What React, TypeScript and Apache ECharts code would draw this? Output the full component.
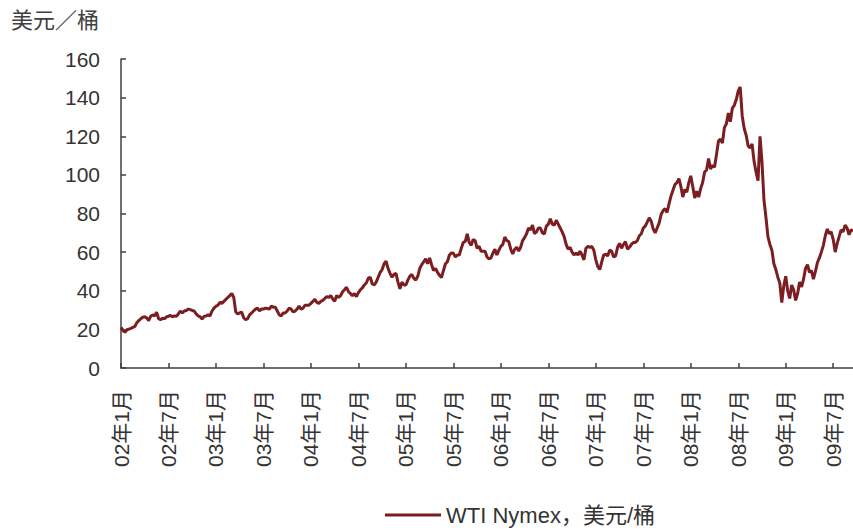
import React, { useEffect, useRef } from "react";
import * as echarts from "echarts";

// Weekly WTI prices (USD/bbl), 4 readings per month, Jan 2002 .. mid Sep 2009
const prices2002 = [
  21.0, 19.5, 18.5, 19.8, 20.1, 20.5, 21.0, 21.5, 23.5, 24.5, 25.5, 26.3,
  26.5, 26.0, 24.5, 26.8, 27.5, 27.0, 28.9, 25.5, 25.0, 25.8, 25.5, 26.5,
  26.8, 27.2, 26.5, 27.0, 26.8, 28.0, 29.5, 28.5, 29.5, 29.8, 30.5, 30.2,
  29.8, 29.5, 28.0, 27.0, 26.5, 25.3, 26.8, 26.9, 27.5, 27.0, 29.5, 31.0,
];
const prices2003 = [
  32.0, 32.5, 34.0, 33.5, 34.5, 35.5, 36.5, 37.5, 38.6, 36.5, 29.0, 28.0,
  28.5, 29.0, 26.0, 25.0, 25.5, 27.5, 28.5, 29.5, 30.5, 31.0, 29.5, 30.5,
  30.5, 31.0, 30.8, 30.5, 32.0, 31.5, 31.5, 29.5, 27.5, 27.0, 28.5, 28.5,
  29.5, 31.0, 30.5, 29.0, 29.5, 30.5, 32.0, 30.5, 31.0, 32.5, 32.5, 32.5,
];
const prices2004 = [
  33.5, 34.5, 35.5, 34.0, 33.5, 34.5, 35.0, 36.0, 37.0, 36.5, 37.5, 35.8,
  34.5, 37.5, 36.5, 37.5, 39.5, 40.5, 41.8, 39.5, 38.5, 37.5, 38.5, 37.0,
  39.0, 40.5, 41.5, 43.0, 44.0, 46.5, 47.0, 43.5, 43.0, 44.5, 47.0, 49.5,
  51.0, 54.0, 55.3, 51.5, 49.0, 47.0, 48.5, 49.0, 44.5, 41.0, 44.5, 43.0,
];
const prices2005 = [
  43.0, 45.5, 47.5, 48.5, 46.5, 45.5, 47.5, 51.5, 53.5, 55.0, 56.5, 54.0,
  57.0, 53.5, 50.5, 51.5, 49.5, 48.0, 46.8, 50.5, 54.0, 55.0, 58.5, 59.5,
  59.5, 57.5, 58.5, 58.5, 62.0, 65.0, 65.5, 69.5, 65.0, 63.5, 66.5, 66.0,
  62.0, 63.0, 60.5, 60.5, 60.5, 57.5, 56.5, 57.0, 59.5, 61.5, 58.5, 61.0,
];
const prices2006 = [
  63.0, 64.0, 67.8, 66.0, 65.5, 61.5, 59.0, 61.5, 62.5, 60.5, 62.5, 66.0,
  67.5, 69.5, 72.5, 71.5, 74.0, 69.5, 70.5, 72.5, 72.5, 70.0, 69.5, 73.5,
  74.5, 77.3, 74.5, 74.0, 76.5, 74.5, 72.5, 70.5, 68.0, 64.0, 61.5, 62.5,
  60.0, 58.5, 59.5, 58.5, 60.5, 58.5, 56.0, 62.0, 63.0, 62.5, 63.0, 61.0,
];
const prices2007 = [
  56.0, 52.5, 51.0, 55.0, 58.5, 59.0, 58.0, 61.0, 60.5, 57.5, 58.0, 62.5,
  64.5, 62.0, 64.0, 65.5, 61.5, 62.5, 64.0, 65.0, 65.0, 66.0, 68.5, 69.5,
  72.5, 73.5, 75.5, 77.8, 76.0, 72.0, 70.0, 72.5, 75.0, 79.5, 81.5, 82.5,
  80.5, 85.0, 89.0, 92.0, 95.0, 96.0, 98.0, 94.0, 88.5, 92.5, 91.0, 96.0,
];
const prices2008 = [
  99.5, 94.0, 88.0, 91.5, 88.5, 93.0, 96.0, 101.5, 102.5, 108.5, 103.0, 105.0,
  104.0, 110.5, 117.5, 118.5, 116.5, 124.5, 126.5, 132.0, 127.5, 134.5, 136.0, 139.0,
  143.5, 145.5, 130.5, 124.0, 120.5, 115.0, 114.0, 116.0, 107.0, 101.5, 97.0, 120.0,
  106.5, 87.0, 78.0, 68.0, 64.0, 61.0, 54.0, 51.0, 47.0, 44.0, 33.9, 42.5,
];
const prices2009 = [
  47.5, 40.0, 36.0, 43.0, 40.5, 35.0, 38.5, 44.5, 42.0, 46.0, 51.5, 53.5,
  49.5, 50.5, 46.0, 50.0, 54.5, 57.0, 60.0, 63.5, 68.5, 72.0, 69.5, 70.5,
  66.5, 60.0, 64.5, 68.0, 71.5, 70.5, 74.0, 72.5, 69.0, 71.5, 71.0,
];
const yearlyPrices = [
  prices2002, prices2003, prices2004, prices2005,
  prices2006, prices2007, prices2008, prices2009,
];

const xTickLabels = [
  "02年1月", "02年7月", "03年1月", "03年7月", "04年1月", "04年7月",
  "05年1月", "05年7月", "06年1月", "06年7月", "07年1月", "07年7月",
  "08年1月", "08年7月", "09年1月", "09年7月",
];
const yTicks = [0, 20, 40, 60, 80, 100, 120, 140, 160];

const unitTitle = "美元／桶";
const seriesName = "WTI Nymex，美元/桶";

const FONT = "'Liberation Sans', Arial, 'Noto Sans CJK SC', sans-serif";

export default function App() {
  const ref = useRef<HTMLDivElement>(null);

  useEffect(() => {
    if (!ref.current) return;
    const chart = echarts.init(ref.current, undefined, { renderer: "svg" });

    // x = months since Jan 2002; each year has weekly readings (4 per month)
    const data: [number, number][] = [];
    yearlyPrices.forEach((arr, yi) => {
      arr.forEach((v, i) => data.push([yi * 12 + i / 4, v]));
    });
    const xMax = (yearlyPrices.length - 1) * 12 + (prices2009.length - 1) / 4;
    const tickVals = xTickLabels.map((_, i) => i * 6);

    chart.setOption({
      animation: false,
      textStyle: { fontFamily: FONT },
      title: {
        text: unitTitle,
        left: 6,
        top: 4,
        textStyle: { fontSize: 22, fontWeight: "normal", color: "#404040", fontFamily: FONT },
      },
      legend: {
        left: 380,
        top: 499,
        itemWidth: 56,
        itemHeight: 3,
        itemGap: 6,
        icon: "rect",
        textStyle: { fontSize: 22, color: "#333", fontFamily: FONT },
        data: [seriesName],
      },
      grid: { left: 121, right: 0, top: 59, bottom: 162 },
      xAxis: {
        type: "value",
        min: 0,
        max: xMax,
        interval: 6,
        splitLine: { show: false },
        axisLine: { lineStyle: { color: "#404040", width: 1.5 } },
        axisTick: {
          inside: true,
          length: 5,
          lineStyle: { color: "#404040", width: 1.5 },
          customValues: tickVals,
        },
        axisLabel: {
          rotate: 90,
          margin: 22,
          fontSize: 21,
          color: "#333",
          fontFamily: FONT,
          customValues: tickVals,
          formatter: (v: number) => {
            const idx = Math.round(v / 6);
            return Math.abs(v - idx * 6) < 1e-6 && xTickLabels[idx] ? xTickLabels[idx] : "";
          },
        },
      },
      yAxis: {
        type: "value",
        min: yTicks[0],
        max: yTicks[yTicks.length - 1],
        interval: 20,
        splitLine: { show: false },
        axisLine: { show: true, lineStyle: { color: "#404040", width: 1.5 } },
        axisTick: { show: true, inside: true, length: 5, lineStyle: { color: "#404040", width: 1.5 } },
        axisLabel: { margin: 21, fontSize: 21, color: "#333", fontFamily: FONT },
      },
      series: [
        {
          name: seriesName,
          type: "line",
          data,
          symbol: "none",
          showSymbol: false,
          lineStyle: { color: "#7B1E22", width: 3 },
          itemStyle: { color: "#7B1E22" },
        },
      ],
    });

    return () => chart.dispose();
  }, []);

  return <div ref={ref} style={{ width: 853, height: 530, position: "absolute", left: 0, top: 0 }} />;
}
